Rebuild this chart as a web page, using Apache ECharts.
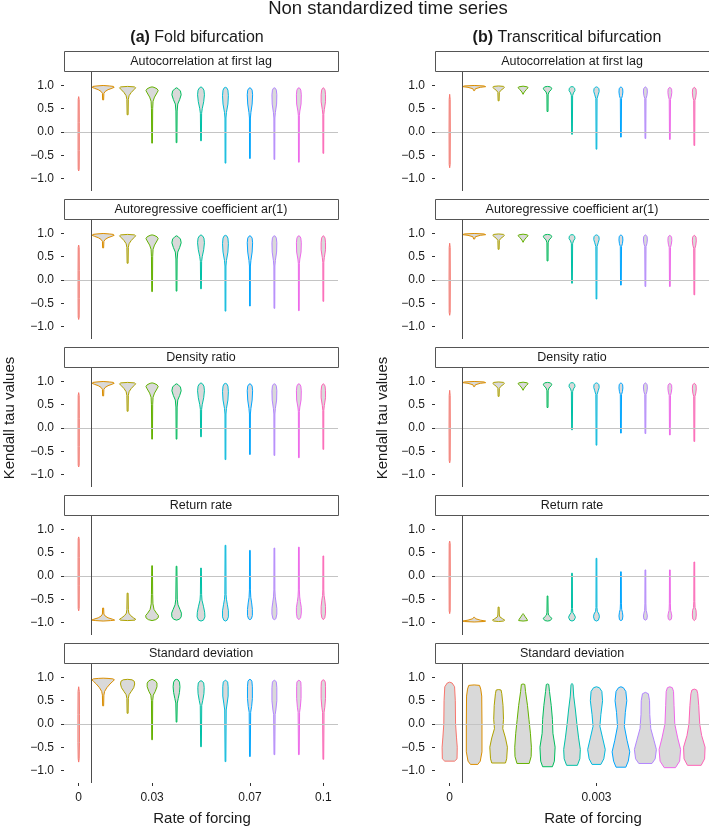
<!DOCTYPE html>
<html><head><meta charset="utf-8">
<script src="https://cdn.jsdelivr.net/npm/echarts@6/dist/echarts.min.js"></script>
<style>html,body{margin:0;padding:0;background:#fff}#c{width:709px;height:828px}</style>
</head><body><div id="c"></div>
<script>
// ---------- data ----------
const chartTitle = 'Non standardized time series';
const columnTitles = [['(a)', 'Fold bifurcation'], ['(b)', 'Transcritical bifurcation']];
const panelTitles = ['Autocorrelation at first lag', 'Autoregressive coefficient ar(1)', 'Density ratio', 'Return rate', 'Standard deviation'];
const xAxisTitle = 'Rate of forcing';
const yAxisTitle = 'Kendall tau values';
const foldCategories = ['0', '0.01', '0.02', '0.03', '0.04', '0.05', '0.06', '0.07', '0.08', '0.09', '0.1'];
const foldTickLabels = ['0', '0.03', '0.07', '0.1'];
const transCategories = ['0', '0.0005', '0.001', '0.0015', '0.002', '0.0025', '0.003', '0.0035', '0.004', '0.0045', '0.005'];
const transTickLabels = ['0', '0.003'];
const yTickValues = [-1, -0.5, 0, 0.5, 1];
const palette = ['#F8766D', '#DB8E00', '#AEA200', '#64B200', '#00BD5C', '#00C1A7', '#00BADE', '#00A6FF', '#B385FF', '#EF67EB', '#FF63B6'];

// each violin: [tau value, half width] knots, bottom to top
const foldAutocorrelation = [
  [[-0.84,0],[-0.8,0.02],[-0.4,0.025],[0.2,0.025],[0.7,0.02],[0.76,0]],
  [[0.69,0.02],[0.83,0.03],[0.87,0.08],[0.91,0.2],[0.94,0.36],[0.96,0.45],[0.98,0.42],[0.99,0.25],[1.0,0]],
  [[0.37,0.02],[0.7,0.03],[0.78,0.06],[0.85,0.15],[0.91,0.26],[0.95,0.33],[0.97,0.28],[0.98,0]],
  [[-0.24,0.015],[0.5,0.025],[0.66,0.04],[0.75,0.1],[0.84,0.2],[0.89,0.25],[0.93,0.2],[0.96,0.08],[0.97,0]],
  [[-0.23,0.015],[0.45,0.025],[0.6,0.05],[0.7,0.13],[0.8,0.19],[0.88,0.16],[0.93,0.07],[0.95,0]],
  [[-0.19,0.015],[0.4,0.025],[0.5,0.05],[0.65,0.11],[0.8,0.14],[0.9,0.12],[0.95,0.06],[0.97,0]],
  [[-0.67,0.015],[0.3,0.02],[0.42,0.04],[0.6,0.1],[0.78,0.12],[0.9,0.1],[0.95,0.05],[0.96,0]],
  [[-0.57,0.015],[0.3,0.02],[0.42,0.04],[0.6,0.09],[0.8,0.11],[0.9,0.09],[0.94,0.04],[0.95,0]],
  [[-0.59,0.015],[0.3,0.02],[0.42,0.04],[0.6,0.09],[0.8,0.1],[0.9,0.08],[0.94,0.04],[0.95,0]],
  [[-0.65,0.015],[0.35,0.02],[0.45,0.04],[0.6,0.09],[0.8,0.1],[0.9,0.08],[0.94,0.04],[0.95,0]],
  [[-0.46,0.015],[0.38,0.02],[0.48,0.04],[0.65,0.09],[0.8,0.09],[0.9,0.07],[0.94,0.03],[0.95,0]]
];
const foldAr1 = [
  [[-0.85,0],[-0.8,0.02],[-0.4,0.025],[0.2,0.025],[0.7,0.02],[0.75,0]],
  [[0.69,0.02],[0.83,0.03],[0.87,0.08],[0.91,0.2],[0.94,0.36],[0.96,0.45],[0.98,0.42],[0.99,0.25],[1.0,0]],
  [[0.36,0.02],[0.7,0.03],[0.78,0.06],[0.85,0.15],[0.91,0.26],[0.95,0.33],[0.97,0.28],[0.98,0]],
  [[-0.25,0.015],[0.5,0.025],[0.66,0.04],[0.75,0.1],[0.84,0.2],[0.89,0.25],[0.93,0.2],[0.96,0.08],[0.97,0]],
  [[-0.24,0.015],[0.45,0.025],[0.6,0.05],[0.7,0.13],[0.8,0.19],[0.88,0.16],[0.93,0.07],[0.95,0]],
  [[-0.19,0.015],[0.4,0.025],[0.5,0.05],[0.65,0.11],[0.8,0.14],[0.9,0.12],[0.95,0.06],[0.97,0]],
  [[-0.67,0.015],[0.3,0.02],[0.42,0.04],[0.6,0.1],[0.78,0.12],[0.9,0.1],[0.95,0.05],[0.96,0]],
  [[-0.56,0.015],[0.3,0.02],[0.42,0.04],[0.6,0.09],[0.8,0.11],[0.9,0.09],[0.94,0.04],[0.95,0]],
  [[-0.61,0.015],[0.3,0.02],[0.42,0.04],[0.6,0.09],[0.8,0.1],[0.9,0.08],[0.94,0.04],[0.95,0]],
  [[-0.66,0.015],[0.35,0.02],[0.45,0.04],[0.6,0.09],[0.8,0.1],[0.9,0.08],[0.94,0.04],[0.95,0]],
  [[-0.46,0.015],[0.38,0.02],[0.48,0.04],[0.65,0.09],[0.8,0.09],[0.9,0.07],[0.94,0.03],[0.95,0]]
];
const foldDensityRatio = [
  [[-0.84,0],[-0.8,0.02],[-0.4,0.025],[0.2,0.025],[0.7,0.02],[0.76,0]],
  [[0.69,0.02],[0.83,0.03],[0.87,0.08],[0.91,0.2],[0.94,0.36],[0.96,0.45],[0.98,0.42],[0.99,0.25],[1.0,0]],
  [[0.36,0.02],[0.7,0.03],[0.78,0.06],[0.85,0.15],[0.91,0.26],[0.95,0.33],[0.97,0.28],[0.98,0]],
  [[-0.24,0.015],[0.5,0.025],[0.66,0.04],[0.75,0.1],[0.84,0.2],[0.89,0.25],[0.93,0.2],[0.96,0.08],[0.97,0]],
  [[-0.24,0.015],[0.45,0.025],[0.6,0.05],[0.7,0.13],[0.8,0.19],[0.88,0.16],[0.93,0.07],[0.95,0]],
  [[-0.19,0.015],[0.4,0.025],[0.5,0.05],[0.65,0.11],[0.8,0.14],[0.9,0.12],[0.95,0.06],[0.97,0]],
  [[-0.68,0.015],[0.3,0.02],[0.42,0.04],[0.6,0.1],[0.78,0.12],[0.9,0.1],[0.95,0.05],[0.96,0]],
  [[-0.57,0.015],[0.3,0.02],[0.42,0.04],[0.6,0.09],[0.8,0.11],[0.9,0.09],[0.94,0.04],[0.95,0]],
  [[-0.59,0.015],[0.3,0.02],[0.42,0.04],[0.6,0.09],[0.8,0.1],[0.9,0.08],[0.94,0.04],[0.95,0]],
  [[-0.64,0.015],[0.35,0.02],[0.45,0.04],[0.6,0.09],[0.8,0.1],[0.9,0.08],[0.94,0.04],[0.95,0]],
  [[-0.46,0.015],[0.38,0.02],[0.48,0.04],[0.65,0.09],[0.8,0.09],[0.9,0.07],[0.94,0.03],[0.95,0]]
];
const foldReturnRate = [
  [[-0.75,0],[-0.7,0.02],[-0.2,0.025],[0.4,0.025],[0.8,0.02],[0.84,0]],
  [[-0.97,0],[-0.96,0.3],[-0.95,0.47],[-0.93,0.38],[-0.9,0.2],[-0.86,0.08],[-0.82,0.03],[-0.69,0.02]],
  [[-0.96,0],[-0.95,0.3],[-0.93,0.33],[-0.9,0.24],[-0.85,0.12],[-0.8,0.05],[-0.72,0.03],[-0.37,0.02]],
  [[-0.96,0],[-0.94,0.15],[-0.9,0.25],[-0.85,0.26],[-0.8,0.18],[-0.72,0.08],[-0.6,0.035],[-0.4,0.025],[0.22,0.015]],
  [[-0.95,0],[-0.93,0.12],[-0.88,0.19],[-0.8,0.2],[-0.72,0.14],[-0.62,0.06],[-0.5,0.03],[0.21,0.015]],
  [[-0.97,0],[-0.95,0.1],[-0.88,0.16],[-0.78,0.15],[-0.65,0.1],[-0.52,0.04],[-0.4,0.025],[0.17,0.015]],
  [[-0.97,0],[-0.95,0.07],[-0.88,0.12],[-0.75,0.12],[-0.62,0.08],[-0.5,0.04],[-0.4,0.025],[0.66,0.015]],
  [[-0.94,0],[-0.92,0.06],[-0.85,0.1],[-0.72,0.1],[-0.58,0.07],[-0.46,0.035],[-0.3,0.02],[0.55,0.015]],
  [[-0.94,0],[-0.92,0.06],[-0.82,0.1],[-0.7,0.1],[-0.58,0.07],[-0.45,0.035],[-0.3,0.02],[0.6,0.015]],
  [[-0.94,0],[-0.9,0.07],[-0.8,0.1],[-0.68,0.1],[-0.55,0.06],[-0.45,0.035],[-0.3,0.02],[0.62,0.015]],
  [[-0.94,0],[-0.9,0.06],[-0.8,0.09],[-0.66,0.09],[-0.52,0.06],[-0.42,0.03],[-0.3,0.02],[0.43,0.015]]
];
const foldStdDev = [
  [[-0.82,0],[-0.75,0.02],[-0.4,0.03],[0.2,0.03],[0.7,0.025],[0.8,0]],
  [[0.39,0.02],[0.62,0.03],[0.7,0.06],[0.78,0.15],[0.86,0.28],[0.92,0.4],[0.95,0.46],[0.97,0.4],[0.98,0.2],[0.985,0]],
  [[0.23,0.02],[0.55,0.03],[0.63,0.06],[0.7,0.15],[0.78,0.25],[0.86,0.29],[0.92,0.27],[0.95,0.18],[0.96,0]],
  [[-0.34,0.015],[0.5,0.025],[0.62,0.05],[0.7,0.13],[0.8,0.2],[0.88,0.2],[0.93,0.13],[0.96,0]],
  [[0.04,0.015],[0.45,0.03],[0.55,0.07],[0.68,0.12],[0.8,0.14],[0.9,0.12],[0.95,0.06],[0.96,0]],
  [[-0.49,0.015],[0.4,0.03],[0.5,0.07],[0.65,0.12],[0.78,0.13],[0.88,0.11],[0.92,0.05],[0.93,0]],
  [[-0.81,0.015],[0.3,0.03],[0.45,0.07],[0.6,0.11],[0.8,0.11],[0.9,0.09],[0.93,0.04],[0.94,0]],
  [[-0.7,0.015],[0.25,0.03],[0.38,0.07],[0.55,0.1],[0.8,0.1],[0.92,0.08],[0.95,0.04],[0.96,0]],
  [[-0.66,0.015],[0.2,0.03],[0.3,0.06],[0.5,0.1],[0.78,0.1],[0.9,0.08],[0.93,0.04],[0.94,0]],
  [[-0.66,0.015],[0.25,0.03],[0.36,0.06],[0.55,0.09],[0.8,0.09],[0.9,0.08],[0.93,0.04],[0.94,0]],
  [[-0.76,0.015],[0.25,0.03],[0.36,0.06],[0.55,0.09],[0.8,0.09],[0.9,0.08],[0.94,0.04],[0.95,0]]
];
const transAutocorrelation = [
  [[-0.77,0],[-0.7,0.02],[0,0.025],[0.7,0.02],[0.81,0]],
  [[0.89,0.02],[0.93,0.05],[0.96,0.25],[0.975,0.47],[0.99,0.4],[1.0,0]],
  [[0.67,0.02],[0.85,0.03],[0.89,0.08],[0.93,0.18],[0.96,0.24],[0.98,0.2],[0.99,0]],
  [[0.81,0],[0.86,0.05],[0.91,0.13],[0.95,0.2],[0.97,0.18],[0.985,0]],
  [[0.44,0.02],[0.8,0.025],[0.86,0.06],[0.91,0.15],[0.94,0.17],[0.97,0.12],[0.98,0]],
  [[-0.05,0.015],[0.78,0.025],[0.84,0.06],[0.89,0.12],[0.94,0.11],[0.97,0.05],[0.975,0]],
  [[-0.37,0.015],[0.72,0.025],[0.8,0.07],[0.87,0.11],[0.93,0.1],[0.96,0.05],[0.97,0]],
  [[-0.11,0.015],[0.72,0.025],[0.78,0.06],[0.86,0.08],[0.93,0.07],[0.96,0.03],[0.97,0]],
  [[-0.14,0.015],[0.72,0.025],[0.78,0.06],[0.86,0.08],[0.93,0.07],[0.96,0.03],[0.97,0]],
  [[-0.16,0.015],[0.7,0.025],[0.77,0.06],[0.85,0.08],[0.92,0.07],[0.95,0.03],[0.96,0]],
  [[-0.29,0.015],[0.68,0.025],[0.75,0.06],[0.84,0.08],[0.92,0.07],[0.95,0.03],[0.96,0]]
];
const transAr1 = [
  [[-0.76,0],[-0.7,0.02],[0,0.025],[0.7,0.02],[0.79,0]],
  [[0.88,0.02],[0.93,0.05],[0.96,0.25],[0.975,0.47],[0.99,0.4],[1.0,0]],
  [[0.66,0.02],[0.85,0.03],[0.89,0.08],[0.93,0.18],[0.96,0.24],[0.98,0.2],[0.99,0]],
  [[0.81,0],[0.86,0.05],[0.91,0.13],[0.95,0.2],[0.97,0.18],[0.985,0]],
  [[0.41,0.02],[0.8,0.025],[0.86,0.06],[0.91,0.15],[0.94,0.17],[0.97,0.12],[0.98,0]],
  [[-0.07,0.015],[0.78,0.025],[0.84,0.06],[0.89,0.12],[0.94,0.11],[0.97,0.05],[0.975,0]],
  [[-0.41,0.015],[0.72,0.025],[0.8,0.07],[0.87,0.11],[0.93,0.1],[0.96,0.05],[0.97,0]],
  [[-0.11,0.015],[0.72,0.025],[0.78,0.06],[0.86,0.08],[0.93,0.07],[0.96,0.03],[0.97,0]],
  [[-0.14,0.015],[0.72,0.025],[0.78,0.06],[0.86,0.08],[0.93,0.07],[0.96,0.03],[0.97,0]],
  [[-0.14,0.015],[0.7,0.025],[0.77,0.06],[0.85,0.08],[0.92,0.07],[0.95,0.03],[0.96,0]],
  [[-0.32,0.015],[0.68,0.025],[0.75,0.06],[0.84,0.08],[0.92,0.07],[0.95,0.03],[0.96,0]]
];
const transDensityRatio = [
  [[-0.75,0],[-0.7,0.02],[0,0.025],[0.7,0.02],[0.81,0]],
  [[0.89,0.02],[0.93,0.05],[0.96,0.25],[0.975,0.47],[0.99,0.4],[1.0,0]],
  [[0.68,0.02],[0.85,0.03],[0.89,0.08],[0.93,0.18],[0.96,0.24],[0.98,0.2],[0.99,0]],
  [[0.81,0],[0.86,0.05],[0.91,0.13],[0.95,0.2],[0.97,0.18],[0.985,0]],
  [[0.44,0.02],[0.8,0.025],[0.86,0.06],[0.91,0.15],[0.94,0.17],[0.97,0.12],[0.98,0]],
  [[-0.04,0.015],[0.78,0.025],[0.84,0.06],[0.89,0.12],[0.94,0.11],[0.97,0.05],[0.975,0]],
  [[-0.37,0.015],[0.72,0.025],[0.8,0.07],[0.87,0.11],[0.93,0.1],[0.96,0.05],[0.97,0]],
  [[-0.11,0.015],[0.72,0.025],[0.78,0.06],[0.86,0.08],[0.93,0.07],[0.96,0.03],[0.97,0]],
  [[-0.12,0.015],[0.72,0.025],[0.78,0.06],[0.86,0.08],[0.93,0.07],[0.96,0.03],[0.97,0]],
  [[-0.15,0.015],[0.7,0.025],[0.77,0.06],[0.85,0.08],[0.92,0.07],[0.95,0.03],[0.96,0]],
  [[-0.29,0.015],[0.68,0.025],[0.75,0.06],[0.84,0.08],[0.92,0.07],[0.95,0.03],[0.96,0]]
];
const transReturnRate = [
  [[-0.81,0],[-0.75,0.02],[0,0.025],[0.7,0.02],[0.75,0]],
  [[-0.99,0],[-0.98,0.4],[-0.97,0.47],[-0.95,0.25],[-0.92,0.06],[-0.89,0.02]],
  [[-0.98,0],[-0.97,0.2],[-0.95,0.25],[-0.92,0.16],[-0.88,0.05],[-0.84,0.03],[-0.67,0.02]],
  [[-0.97,0],[-0.96,0.18],[-0.93,0.16],[-0.88,0.09],[-0.83,0.03],[-0.81,0]],
  [[-0.97,0],[-0.96,0.1],[-0.92,0.18],[-0.88,0.12],[-0.84,0.04],[-0.78,0.025],[-0.43,0.015]],
  [[-0.97,0],[-0.95,0.09],[-0.89,0.14],[-0.84,0.1],[-0.79,0.035],[-0.7,0.02],[0.06,0.015]],
  [[-0.97,0],[-0.95,0.08],[-0.88,0.12],[-0.82,0.1],[-0.76,0.035],[-0.68,0.02],[0.38,0.015]],
  [[-0.96,0],[-0.94,0.06],[-0.86,0.08],[-0.78,0.06],[-0.72,0.03],[-0.6,0.02],[0.09,0.015]],
  [[-0.95,0],[-0.93,0.06],[-0.86,0.08],[-0.8,0.06],[-0.74,0.03],[-0.6,0.02],[0.13,0.015]],
  [[-0.95,0],[-0.93,0.06],[-0.86,0.08],[-0.8,0.06],[-0.74,0.03],[-0.6,0.02],[0.13,0.015]],
  [[-0.96,0],[-0.93,0.06],[-0.84,0.08],[-0.74,0.07],[-0.68,0.03],[-0.55,0.02],[0.3,0.015]]
];
const transStdDev = [
  [[-0.8,0.2],[-0.75,0.3],[-0.5,0.31],[-0.3,0.28],[0,0.24],[0.5,0.23],[0.8,0.2],[0.88,0.1],[0.9,0]],
  [[-0.87,0.15],[-0.8,0.25],[-0.6,0.32],[0,0.32],[0.6,0.31],[0.75,0.27],[0.83,0.22],[0.84,0]],
  [[-0.84,0.28],[-0.75,0.33],[-0.5,0.36],[-0.3,0.28],[-0.1,0.17],[0.1,0.2],[0.4,0.18],[0.65,0.13],[0.73,0.1],[0.74,0]],
  [[-0.85,0.25],[-0.7,0.33],[-0.5,0.34],[-0.2,0.3],[0.1,0.24],[0.4,0.18],[0.7,0.1],[0.85,0.07],[0.86,0]],
  [[-0.92,0.2],[-0.8,0.28],[-0.5,0.31],[-0.2,0.22],[0.1,0.2],[0.4,0.15],[0.7,0.08],[0.85,0.05],[0.86,0]],
  [[-0.89,0.22],[-0.75,0.32],[-0.55,0.34],[-0.3,0.27],[0,0.2],[0.3,0.14],[0.6,0.07],[0.85,0.04],[0.87,0]],
  [[-0.87,0.18],[-0.75,0.3],[-0.55,0.36],[-0.3,0.25],[-0.05,0.14],[0.2,0.18],[0.5,0.25],[0.7,0.22],[0.78,0.12],[0.8,0]],
  [[-0.93,0.2],[-0.8,0.3],[-0.6,0.36],[-0.35,0.25],[-0.05,0.14],[0.25,0.18],[0.5,0.24],[0.7,0.2],[0.78,0.1],[0.8,0]],
  [[-0.85,0.27],[-0.75,0.4],[-0.55,0.45],[-0.35,0.35],[-0.1,0.22],[0.2,0.18],[0.5,0.17],[0.65,0.12],[0.68,0]],
  [[-0.94,0.23],[-0.8,0.4],[-0.55,0.44],[-0.3,0.32],[0,0.2],[0.4,0.17],[0.7,0.15],[0.78,0.1],[0.8,0]],
  [[-0.89,0.28],[-0.75,0.42],[-0.5,0.44],[-0.25,0.3],[0,0.22],[0.4,0.18],[0.65,0.14],[0.73,0.1],[0.75,0]]
];

// ---------- layout ----------
const FONT = '"Liberation Sans", Arial, Helvetica, sans-serif';
const TEXT = '#1a1a1a';
const columns = [
  { cats: foldCategories, ticks: foldTickLabels, left: 64, width: 274, titleX: 197, xTitleX: 202, yTitleX: 10,
    panels: [foldAutocorrelation, foldAr1, foldDensityRatio, foldReturnRate, foldStdDev] },
  { cats: transCategories, ticks: transTickLabels, left: 435, width: 274, titleX: 567, xTitleX: 593, yTitleX: 383,
    panels: [transAutocorrelation, transAr1, transDensityRatio, transReturnRate, transStdDev] }
];
const ROW0 = 72, PITCH = 148, PH = 119, STRIP_H = 21;

const grids = [], xAxes = [], yAxes = [], series = [], graphics = [];
const yFmt = v => (v < 0 ? '\u2212' : '') + Math.abs(v).toFixed(1);

columns.forEach((col, c) => {
  const tickIdx = col.ticks.map(t => col.cats.indexOf(t));
  col.panels.forEach((violins, r) => {
    const gi = grids.length;
    const top = ROW0 + PITCH * r;
    const isBottom = r === col.panels.length - 1;
    grids.push({ left: col.left, top: top, width: col.width, height: PH });
    xAxes.push({
      gridIndex: gi, type: 'value', position: 'bottom', min: -0.6, max: col.cats.length - 1 + 0.6, show: isBottom,
      axisLine: { show: false, onZero: false }, splitLine: { show: false },
      axisTick: { show: true, customValues: tickIdx, length: 3, lineStyle: { color: '#333' } },
      axisLabel: { customValues: tickIdx, formatter: v => col.cats[Math.round(v)], margin: 9,
        fontSize: 12, color: TEXT, fontFamily: FONT }
    });
    yAxes.push({
      gridIndex: gi, type: 'value', position: 'left', min: -1.27, max: 1.29,
      axisLine: { show: false, onZero: false }, splitLine: { show: false },
      axisTick: { show: true, customValues: yTickValues, length: 3, lineStyle: { color: '#333' } },
      axisLabel: { customValues: yTickValues, formatter: yFmt, margin: 10, fontSize: 12, color: TEXT, fontFamily: FONT }
    });
    // reference lines
    series.push({
      type: 'line', xAxisIndex: gi, yAxisIndex: gi, data: [], z: 1, silent: true,
      markLine: {
        silent: true, symbol: ['none', 'none'], label: { show: false }, animation: false,
        data: [
          { yAxis: 0, lineStyle: { color: '#c4c4c4', width: 1, type: 'solid' } },
          { xAxis: 0.5, lineStyle: { color: '#4d4d4d', width: 1, type: 'solid' } }
        ]
      }
    });
    // violins
    series.push({
      type: 'custom', xAxisIndex: gi, yAxisIndex: gi, z: 3, silent: true,
      data: violins.map((k, i) => [i, k[0][0], k[k.length - 1][0]]),
      encode: { x: 0, y: [1, 2] },
      renderItem: (params, api) => {
        const i = params.dataIndex;
        const knots = violins[i];
        const pts = [];
        knots.forEach(([v, w]) => pts.push(api.coord([i + w, v])));
        for (let j = knots.length - 1; j >= 0; j--) {
          const [v, w] = knots[j];
          pts.push(api.coord([i - w, v]));
        }
        return { type: 'polygon', shape: { points: pts },
          style: { fill: '#d9d9d9', stroke: palette[i], lineWidth: 1, lineJoin: 'round' } };
      }
    });
    // strip
    graphics.push({ type: 'rect', shape: { x: col.left + 0.5, y: top - STRIP_H + 0.5, width: col.width, height: STRIP_H - 1 },
      style: { fill: '#fff', stroke: '#555', lineWidth: 1 } });
    graphics.push({ type: 'text', x: col.left + col.width / 2, y: top - STRIP_H / 2,
      style: { text: panelTitles[r], align: 'center', verticalAlign: 'middle', fontSize: 12.5, fontFamily: FONT, fill: TEXT } });
  });
  graphics.push({ type: 'text', x: col.titleX, y: 38,
    style: { text: '{b|' + columnTitles[c][0] + '} ' + columnTitles[c][1], align: 'center', verticalAlign: 'middle',
      fontSize: 16, fontFamily: FONT, fill: TEXT, rich: { b: { fontWeight: 'bold', fontSize: 16, fontFamily: FONT, fill: TEXT } } } });
  graphics.push({ type: 'text', x: col.xTitleX, y: 819,
    style: { text: xAxisTitle, align: 'center', verticalAlign: 'middle', fontSize: 15, fontFamily: FONT, fill: TEXT } });
  graphics.push({ type: 'text', x: col.yTitleX, y: 418, rotation: Math.PI / 2,
    style: { text: yAxisTitle, align: 'center', verticalAlign: 'middle', fontSize: 15, fontFamily: FONT, fill: TEXT } });
});
graphics.push({ type: 'text', x: 388, y: 9,
  style: { text: chartTitle, align: 'center', verticalAlign: 'middle', fontSize: 18.5, fontFamily: FONT, fill: TEXT } });

const chart = echarts.init(document.getElementById('c'), null, { renderer: 'canvas' });
chart.setOption({
  animation: false,
  backgroundColor: '#fff',
  grid: grids, xAxis: xAxes, yAxis: yAxes, series: series, graphic: graphics
});
</script></body></html>
